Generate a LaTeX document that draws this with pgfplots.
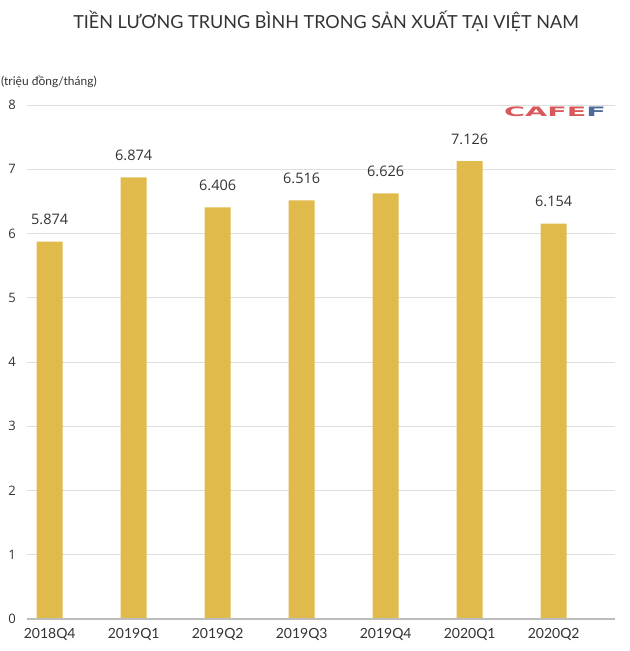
\documentclass[border=0pt]{standalone}
\usepackage{pgfplots}
\pgfplotsset{compat=1.18}
\usepackage{fontspec}
\setmainfont{Lato}
\newfontfamily\valfont{Open Sans}
\newfontfamily\logofont{DejaVu Sans}
\definecolor{barc}{HTML}{E0BA4B}
\definecolor{gridc}{HTML}{DEDEDE}
\definecolor{axc}{HTML}{BDBDBD}
\definecolor{txt}{HTML}{333333}
\definecolor{logored}{HTML}{D9585A}
\definecolor{logoblue}{HTML}{4D6A9C}
\begin{document}
\begin{tikzpicture}[x=1bp,y=1bp]
\useasboundingbox (-27bp,-32bp) rectangle (603bp,619bp);
\begin{axis}[
  scale only axis,
  width=588bp, height=514bp,
  xmin=-0.27, xmax=6.73,
  ymin=0, ymax=8,
  ytick={0,1,...,8},
  yticklabels={},
  xtick=data,
  xticklabels={2018Q4,2019Q1,2019Q2,2019Q3,2019Q4,2020Q1,2020Q2},
  axis lines*=left,
  x axis line style={axc, line width=1.5bp, -},
  y axis line style={draw=none},
  ymajorgrids,
  grid style={gridc, line width=0.8bp},
  major tick length=0pt,
  xticklabel style={font=\fontsize{14bp}{16bp}\selectfont, text=txt, yshift=-6bp},
  /pgf/number format/assume math mode=true,
  enlargelimits=false,
  clip=false,
]
\addplot[ybar, bar width=26bp, fill=barc, draw=none,
  nodes near coords,
  nodes near coords style={font=\valfont\fontsize{14.5bp}{16bp}\selectfont, text=txt, yshift=13bp, /pgf/number format/.cd, fixed, precision=3, fixed zerofill, assume math mode=true},
] coordinates {(0,5.874) (1,6.874) (2,6.406) (3,6.516) (4,6.626) (5,7.126) (6,6.154)};
\foreach \y in {0,...,8} {
  \edef\tmp{\noexpand\node[anchor=center, font=\noexpand\valfont\noexpand\fontsize{13bp}{15bp}\noexpand\selectfont, text=txt] at (axis cs:-0.27,\y) [xshift=-15bp] {\y};}
  \tmp
}
\draw[axc, line width=1.5bp] (axis cs:-0.27,0) -- (axis cs:6.73,0);
\end{axis}
\node[anchor=center, font=\fontsize{18bp}{20bp}\selectfont, text=txt] at (299bp,598bp) {TIỀN LƯƠNG TRUNG BÌNH TRONG SẢN XUẤT TẠI VIỆT NAM};
\node[anchor=west, font=\fontsize{12bp}{14bp}\selectfont, text=txt, inner sep=0pt] at (-26bp,537bp) {(triệu đồng/tháng)};
\node[anchor=center, inner sep=0pt] at (528bp,507bp) {\logofont\bfseries\fontsize{13bp}{14bp}\selectfont\scalebox{2.2}[1]{\textcolor{logored}{CAFE}\textcolor{logoblue}{F}}};
\end{tikzpicture}
\end{document}
